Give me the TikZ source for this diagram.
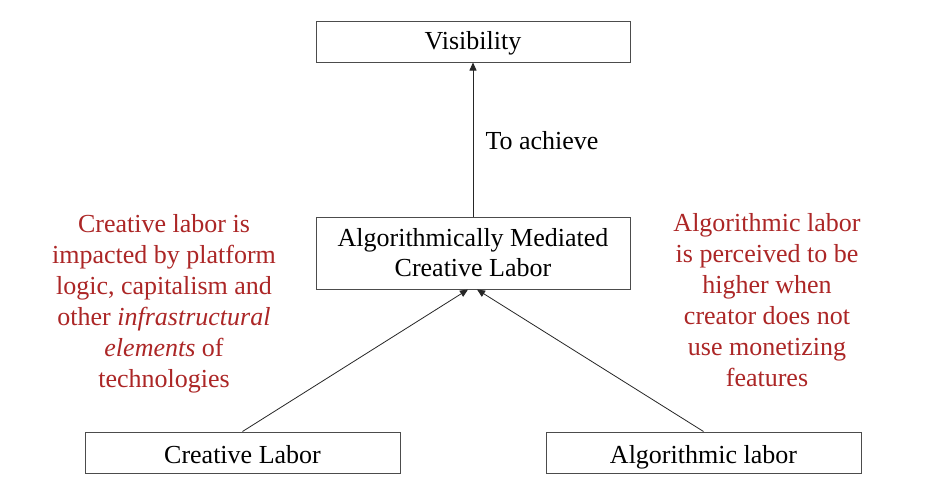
\documentclass[tikz,border=0pt]{standalone}
\usepackage{fontspec}
\setmainfont{Liberation Serif}
\usetikzlibrary{arrows.meta}
\definecolor{labred}{RGB}{172,38,38}
\begin{document}
\begin{tikzpicture}[x=1pt,y=-1pt,
  box/.style={draw=black!70, line width=1pt, inner sep=0pt, align=center,
    font=\fontsize{26}{30}\selectfont},
  note/.style={text=labred, inner sep=0pt, align=center,
    font=\fontsize{26}{31}\selectfont},
  lbl/.style={inner sep=0pt, font=\fontsize{26}{30}\selectfont},
  conn/.style={draw=black!85, line width=0.8pt, -{Triangle[width=7pt,length=8pt]}}]
\useasboundingbox[fill=white] (0,0) rectangle (935,498);

\node[box, minimum width=314pt, minimum height=41pt, text height=18pt, text depth=2pt] (vis) at (473,41.5) {Visibility};
\node[box, minimum width=314pt, minimum height=72pt] (amcl) at (473,253) {Algorithmically Mediated\\Creative Labor};
\node[box, minimum width=315pt, minimum height=41pt, text height=21pt, text depth=0pt] (cl) at (242.5,452.5) {Creative Labor};
\node[box, minimum width=315pt, minimum height=41pt, text height=21pt, text depth=0pt] (al) at (703.5,452.5) {Algorithmic labor};

\node[lbl] (ach) at (542,141) {To achieve};

\node[note] (leftnote) at (164,303.5) {Creative labor is\\impacted by platform\\logic, capitalism and\\other \textit{infrastructural}\\\textit{elements} of\\technologies};
\node[note] (rightnote) at (767,300.5) {Algorithmic labor\\is perceived to be\\higher when\\creator does not\\use monetizing\\features};

\draw[conn] (amcl.north) -- (vis.south);
\draw[conn] (cl.north) -- ([xshift=-5pt]amcl.south);
\draw[conn] (al.north) -- ([xshift=4pt]amcl.south);
\end{tikzpicture}
\end{document}
